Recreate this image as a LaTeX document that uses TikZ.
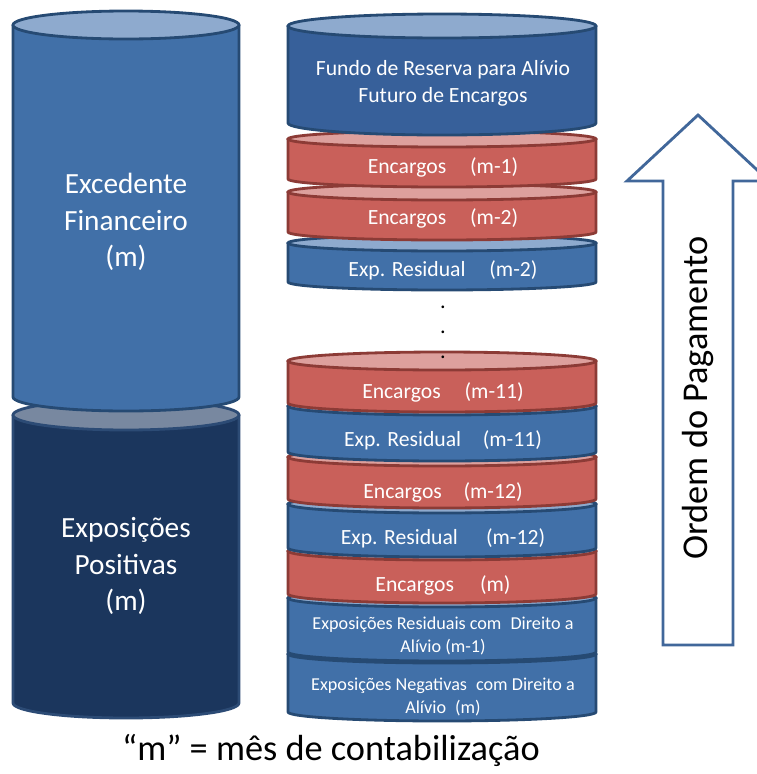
\documentclass[tikz,border=0pt]{standalone}
\usepackage{fontspec}
\setmainfont{Carlito}
\usepackage{xcolor}
\usepackage{tikz}

\definecolor{bluebody}{HTML}{4170A8}
\definecolor{bluetop}{HTML}{8EAACE}
\definecolor{blueline}{HTML}{264A73}
\definecolor{fundobody}{HTML}{37609A}
\definecolor{redbody}{HTML}{C9605A}
\definecolor{redtop}{HTML}{DDA09D}
\definecolor{redline}{HTML}{8C3B36}
\definecolor{navybody}{HTML}{1B365D}
\definecolor{navytop}{HTML}{7888A0}
\definecolor{navyline}{HTML}{2C4B75}
\definecolor{arrowline}{HTML}{41679A}

% drum: x centre, x radius, top y, bottom y, y radius, body, top, line
\newcommand{\drum}[8]{%
  \filldraw[fill=#6, draw=#8, line width=2.4pt, line join=round]
    (#1-#2,#3) -- (#1-#2,#4) arc[start angle=180, end angle=0, x radius=#2, y radius=#5]
    -- (#1+#2,#3) -- cycle;
  \filldraw[fill=#7, draw=#8, line width=2.4pt] (#1,#3) ellipse[x radius=#2, y radius=#5];
}

\begin{document}
\begin{tikzpicture}[x=0.03cm, y=-0.03cm,
  big/.style={text=white, align=center, inner sep=0, font=\fontsize{25}{31}\selectfont},
  lbl/.style={text=white, align=center, inner sep=0, font=\fontsize{18.5}{23}\selectfont},
  small/.style={text=white, align=center, inner sep=0, font=\fontsize{15.5}{19.5}\selectfont}]

  \clip (0,0) rectangle (757,774);

  % Left column
  \drum{126}{113}{415}{703}{15}{navybody}{navytop}{navyline}
  \drum{126}{113}{25}{397}{14}{bluebody}{bluetop}{blueline}
  \node[big] (exced) at (126,222) {Excedente\\Financeiro\\(m)};
  \node[big] (expos) at (126,566) {Exposições\\Positivas\\(m)};

  % Right stack, lower part
  \drum{442}{154}{654}{712}{9}{bluebody}{bluetop}{blueline}
  \drum{442}{154}{598}{652}{9}{bluebody}{bluetop}{blueline}
  \drum{442}{154}{551}{594}{9}{redbody}{redtop}{redline}
  \drum{442}{154}{504}{548}{9}{bluebody}{bluetop}{blueline}
  \drum{442}{154}{457}{499}{9}{redbody}{redtop}{redline}
  \drum{442}{154}{406}{452}{9}{bluebody}{bluetop}{blueline}
  \drum{442}{154}{361}{403}{9}{redbody}{redtop}{redline}

  \node[small] (negat) at (443,697) {Exposições Negativas\enspace com Direito a\\Alívio\enspace(m)};
  \node[small] (resid) at (443,636) {Exposições Residuais com\enspace Direito a\\Alívio (m-1)};
  \node[lbl] (encm) at (443,585) {Encargos\hspace{1.2em}(m)};
  \node[lbl] (res12) at (443,538) {Exp. Residual\hspace{1.3em}(m-12)};
  \node[lbl] (enc12) at (443,492) {Encargos\hspace{1em}(m-12)};
  \node[lbl] (res11) at (443,440) {Exp. Residual\hspace{1em}(m-11)};
  \node[lbl] (enc11) at (443,392) {Encargos\hspace{1.1em}(m-11)};

  % the gap
  \foreach \y in {307,332,357}
    \node[inner sep=0, font=\fontsize{19}{20}\selectfont] (dot\y) at (443,\y) {.};

  % Right stack, upper part
  \drum{442}{154}{243}{282}{8}{bluebody}{bluetop}{blueline}
  \drum{442}{154}{192}{232}{8}{redbody}{redtop}{redline}
  \drum{442}{154}{139}{179}{8}{redbody}{redtop}{redline}
  \drum{442}{154}{26}{123}{12}{fundobody}{bluetop}{blueline}

  \node[lbl] (res2) at (443,270) {Exp. Residual\hspace{1.1em}(m-2)};
  \node[lbl] (enc2) at (443,218) {Encargos\hspace{1.1em}(m-2)};
  \node[lbl] (enc1) at (443,167) {Encargos\hspace{1.1em}(m-1)};
  \node[lbl] (fundo) at (443,83) {Fundo de Reserva para Alívio\\Futuro de Encargos};

  % Payment order arrow
  \filldraw[fill=white, draw=arrowline, line width=2.4pt]
    (663,645) -- (663,181) -- (627,181) -- (698,115) -- (769,181)
    -- (733,181) -- (733,645) -- cycle;
  \node[rotate=90, inner sep=0, font=\fontsize{31}{36}\selectfont] (ordem) at (698,398) {Ordem do Pagamento};

  % Legend
  \node[inner sep=0, font=\fontsize{31}{34}\selectfont] (legend) at (331,750) {“m” = mês de contabilização};
\end{tikzpicture}
\end{document}
